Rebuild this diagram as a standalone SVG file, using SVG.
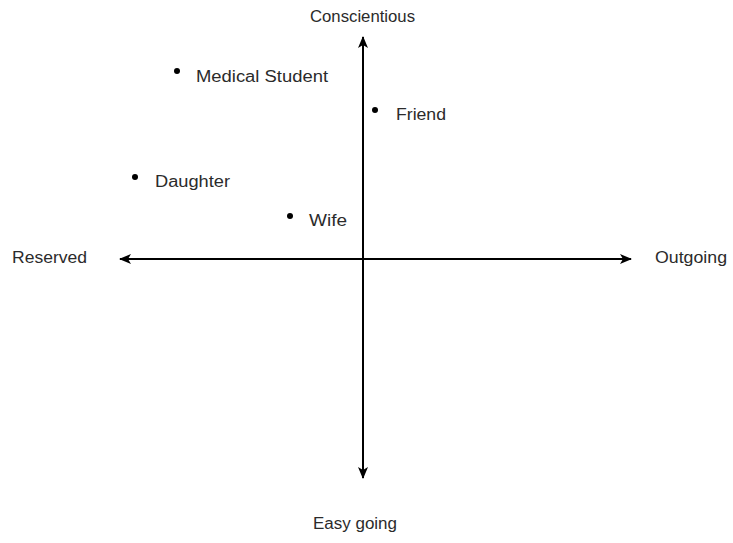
<svg xmlns="http://www.w3.org/2000/svg" width="733" height="543" viewBox="0 0 733 543">
<style>
text{font-family:"Liberation Sans","Open Sans",sans-serif;font-size:16px;fill:#2b2b2b}
.ax{stroke:#000;stroke-width:2;fill:none}
.dot{fill:#000}
</style>
<defs>
<marker id="ah" viewBox="0 0 12 10" refX="11" refY="5" markerWidth="6" markerHeight="5" orient="auto-start-reverse" markerUnits="strokeWidth">
<path d="M0,0 L12,5 L0,10 L3,5 Z" fill="#000"/>
</marker>
</defs>
<rect width="733" height="543" fill="#fff"/>
<g id="connectors">
<line class="ax" x1="363" y1="478" x2="363" y2="37" marker-start="url(#ah)" marker-end="url(#ah)"/>
<line class="ax" x1="120" y1="259" x2="631" y2="259" marker-start="url(#ah)" marker-end="url(#ah)"/>
</g>
<g id="axis-labels">
<text id="conscientious" x="310" y="22" textLength="105" lengthAdjust="spacingAndGlyphs">Conscientious</text>
<text id="easygoing" x="313" y="529" textLength="84" lengthAdjust="spacingAndGlyphs">Easy going</text>
<text id="reserved" x="12" y="263" textLength="75" lengthAdjust="spacingAndGlyphs">Reserved</text>
<text id="outgoing" x="655" y="263" textLength="72" lengthAdjust="spacingAndGlyphs">Outgoing</text>
</g>
<g id="medical-student">
<circle class="dot" cx="177" cy="71" r="3"/>
<text x="196" y="82" textLength="132" lengthAdjust="spacingAndGlyphs">Medical Student</text>
</g>
<g id="friend">
<circle class="dot" cx="375" cy="110" r="3"/>
<text x="396" y="120" textLength="50" lengthAdjust="spacingAndGlyphs">Friend</text>
</g>
<g id="daughter">
<circle class="dot" cx="135" cy="177" r="3"/>
<text x="155" y="187" textLength="75" lengthAdjust="spacingAndGlyphs">Daughter</text>
</g>
<g id="wife">
<circle class="dot" cx="290" cy="216" r="3"/>
<text x="309" y="226" textLength="38" lengthAdjust="spacingAndGlyphs">Wife</text>
</g>
</svg>
